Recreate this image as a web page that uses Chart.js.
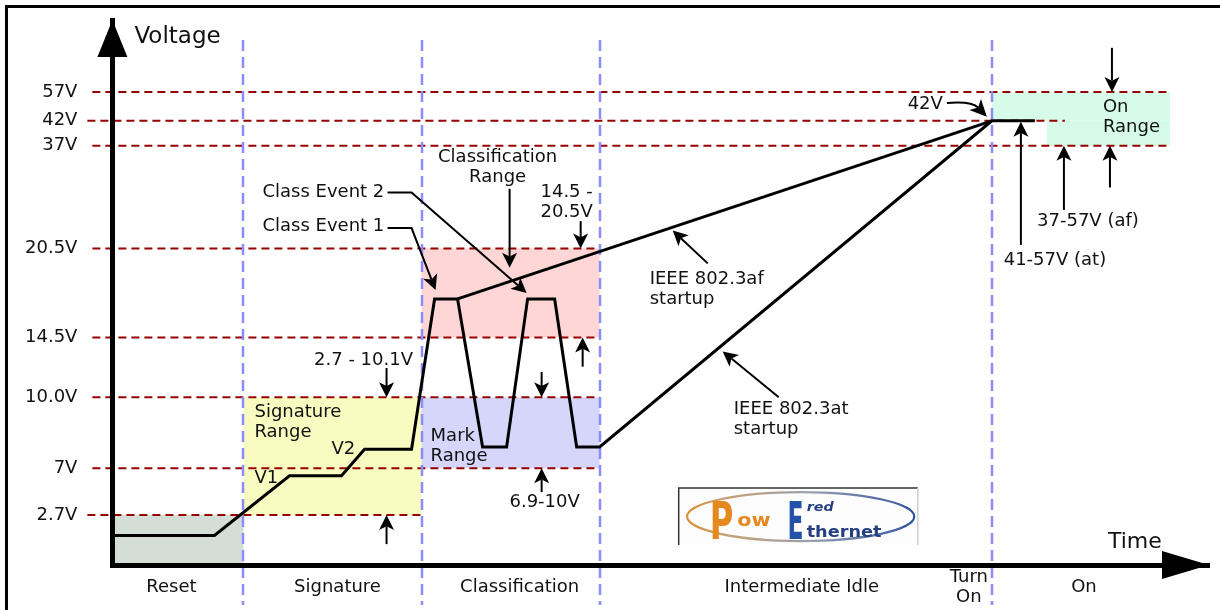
<!DOCTYPE html>
<html>
<head>
<meta charset="utf-8">
<script src="https://cdn.jsdelivr.net/npm/chart.js@4.4.1/dist/chart.umd.min.js"></script>
<style>
html,body{margin:0;padding:0;background:#fff;}
#wrap{width:1220px;height:610px;position:relative;}
</style>
</head>
<body>
<div id="wrap"><canvas id="c"></canvas></div>
<script>
// ---------------- DATA ----------------
// Voltage levels marked on the axis
const Y_TICK_V      = [2.7, 7, 10, 14.5, 20.5, 37, 42, 57];
const Y_TICK_LABELS = ['2.7V', '7V', '10.0V', '14.5V', '20.5V', '37V', '42V', '57V'];

// Phases along the (schematic) time axis
const PHASE_BOUNDS  = [0, 131, 309, 487, 879, 1057];
const PHASE_LABEL_T = [59, 225, 407, 689, 856, 971];
const PHASE_LABELS  = ['Reset', 'Signature', 'Classification', 'Intermediate Idle', ['Turn', 'On'], 'On'];

// PD voltage trace (reset, signature V1/V2, two class events, 802.3at startup, on)
const TRACE_T = [0, 102, 177, 229, 252, 299, 322, 345, 370, 394, 415, 442, 464, 487, 879, 922];
const TRACE_V = [1.6, 1.6, 6.3, 6.3, 7.8, 7.8, 17.1, 17.1, 7.9, 7.9, 17.1, 17.1, 7.9, 7.9, 42, 42];

// IEEE 802.3af startup ramp
const AF_T = [345, 879];
const AF_V = [17.1, 42];

// Shaded voltage ranges
const RANGE_NAMES = ['Reset', 'Signature Range', 'Classification Range', 'Mark Range', 'On Range', 'On Range'];
const RANGE_T0 = [0, 131, 309, 309, 879, 934];
const RANGE_T1 = [131, 309, 487, 487, 1057, 1057];
const RANGE_V0 = [0, 2.7, 14.5, 7, 42, 37];
const RANGE_V1 = [2.7, 10, 20.5, 10, 57, 42];

// Dashed reference levels (same order as Y_TICK_V) and where they end in time
const LEVEL_T_END = [309, 487, 487, 487, 487, 1057, 952, 1057];

// ---------------- STYLE / LAYOUT ----------------
const FONT = '"DejaVu Sans", "Liberation Sans", Arial, sans-serif';
const RANGE_COLORS = ['#d4ddd6', '#f9fcc1', '#ffd6d6', '#d6d6fb', '#d6fbe9', '#d6fbe9'];
const LEVEL_EXT_PX = [25, 20, 20, 20, 20, 20, 25, 20];
// non-linear spacing of the schematic voltage axis (value -> fraction of axis height)
const Y_SPACING_V    = [0, 2.7, 7, 10, 14.5, 20.5, 37, 42, 57, 80];
const Y_SPACING_FRAC = [0, 0.0916, 0.1777, 0.3077, 0.4176, 0.5806, 0.7692, 0.8150, 0.8681, 1];

// annotations anchored in data coordinates [t, V]
const ARROWS = [
  {pts: [[275, 29.5], [299, 29.5], [414, 17.5]]},   // Class Event 2
  {pts: [[275, 23.8], [299, 23.8], [323, 17.7]]},   // Class Event 1
  {pts: [[397, 30.1], [397, 19.2]]},                // Classification Range
  {pts: [[468, 24.9], [468, 20.5]]},                // 20.5V
  {pts: [[470, 12.3], [470, 14.5]]},                // 14.5V
  {pts: [[274, 12.2], [274, 10]]},                  // 10.1V
  {pts: [[274, 1.13], [274, 2.7]]},                 // 2.7V
  {pts: [[429, 11.9], [429, 10]]},                  // mark top
  {pts: [[429, 4.8], [429, 7]]},                    // mark bottom
  {pts: [[595, 19.5], [560, 23.4]]},                // IEEE af
  {pts: [[666, 10.0], [610, 13.45]]},               // IEEE at
  {pts: [[999, 71.1], [999, 57]]},                  // on top
  {pts: [[997, 30.3], [997, 37]]},                  // on bottom
  {pts: [[951, 26.7], [951, 37]]},                  // 37-57 af
  {pts: [[908, 21.1], [908, 41.8]]}                 // 41-57 at
];
const CURVED_ARROW = {from: [834, 51.3], ctrl: [859, 52.3], to: [874, 44.1]};
const TEXTS = [
  {lines: ['Classification', 'Range'], t: 385, v: 35.2, align: 'center'},
  {lines: ['Class Event 2'], t: 150, v: 29.6, align: 'left'},
  {lines: ['Class Event 1'], t: 150, v: 24.0, align: 'left'},
  {lines: ['14.5 -', '20.5V'], t: 454, v: 29.5, align: 'center'},
  {lines: ['2.7 - 10.1V'], t: 251, v: 12.8, align: 'center'},
  {lines: ['Signature', 'Range'], t: 142, v: 9.37, align: 'left'},
  {lines: ['V1'], t: 142, v: 6.08, align: 'left'},
  {lines: ['V2'], t: 219, v: 7.8, align: 'left'},
  {lines: ['Mark', 'Range'], t: 318, v: 8.35, align: 'left'},
  {lines: ['6.9-10V'], t: 432, v: 3.9, align: 'center'},
  {lines: ['IEEE 802.3af', 'startup'], t: 537, v: 18.4, align: 'left'},
  {lines: ['IEEE 802.3at', 'startup'], t: 621, v: 9.5, align: 'left'},
  {lines: ['42V'], t: 830, v: 50.8, align: 'right'},
  {lines: ['On', 'Range'], t: 990, v: 49.2, align: 'left'},
  {lines: ['37-57V (af)'], t: 975, v: 24.8, align: 'center'},
  {lines: ['41-57V (at)'], t: 942, v: 19.7, align: 'center'},
  {lines: ['Voltage'], t: 22, v: 74.6, align: 'left', size: 23},
  {lines: ['Time'], t: 995, v: 1.24, align: 'left', size: 22}
];
const LOGO = {t0: 566, t1: 805, v0: 5.17, v1: 1.08};

// ---------------- custom non-linear scale ----------------
class PiecewiseScale extends Chart.LinearScale {
  _vToDec(v) {
    const V = Y_SPACING_V, F = Y_SPACING_FRAC;
    if (v <= V[0]) return F[0];
    for (let i = 1; i < V.length; i++) {
      if (v <= V[i]) return F[i - 1] + (v - V[i - 1]) / (V[i] - V[i - 1]) * (F[i] - F[i - 1]);
    }
    return F[F.length - 1];
  }
  getPixelForValue(v) { return this.getPixelForDecimal(this._vToDec(v)); }
  getValueForPixel(p) {
    const d = this.getDecimalForPixel(p), V = Y_SPACING_V, F = Y_SPACING_FRAC;
    for (let i = 1; i < F.length; i++) {
      if (d <= F[i]) return V[i - 1] + (d - F[i - 1]) / (F[i] - F[i - 1]) * (V[i] - V[i - 1]);
    }
    return V[V.length - 1];
  }
}
PiecewiseScale.id = 'piecewise';
PiecewiseScale.defaults = Chart.LinearScale.defaults;
Chart.register(PiecewiseScale);

// ---------------- drawing helpers ----------------
function arrowHead(ctx, tx, ty, fx, fy, L, W) {
  const dx = tx - fx, dy = ty - fy, len = Math.hypot(dx, dy) || 1;
  const ux = dx / len, uy = dy / len, nx = -uy, ny = ux;
  const bx = tx - ux * L, by = ty - uy * L;
  const mx = tx - ux * L * 0.75, my = ty - uy * L * 0.75;
  ctx.beginPath();
  ctx.moveTo(tx, ty);
  ctx.lineTo(bx + nx * W, by + ny * W);
  ctx.lineTo(mx, my);
  ctx.lineTo(bx - nx * W, by - ny * W);
  ctx.closePath();
  ctx.fill();
  return [mx, my];
}

function drawLogo(ctx, X0, Y0, X1, Y1) {
  const w = X1 - X0, h = Y1 - Y0;
  ctx.save();
  ctx.fillStyle = '#fdfdfd';
  ctx.fillRect(X0, Y0, w, h);
  ctx.lineWidth = 1.5;
  ctx.strokeStyle = '#333';
  ctx.beginPath(); ctx.moveTo(X0, Y1); ctx.lineTo(X0, Y0); ctx.lineTo(X1, Y0); ctx.stroke();
  ctx.strokeStyle = '#cfcfcf';
  ctx.beginPath(); ctx.moveTo(X1, Y0); ctx.lineTo(X1, Y1); ctx.stroke();
  const g = ctx.createLinearGradient(X0, 0, X1, 0);
  g.addColorStop(0, '#e08a2c'); g.addColorStop(0.2, '#c8a070'); g.addColorStop(0.55, '#9aa0b0'); g.addColorStop(1, '#2b4f9e');
  ctx.strokeStyle = g; ctx.lineWidth = 2.2;
  ctx.beginPath(); ctx.ellipse(X0 + w * 0.51, Y0 + h * 0.5, w * 0.475, h * 0.43, 0, 0, Math.PI * 2); ctx.stroke();
  function stretched(txt, x, y, font, sx, color) {
    ctx.save(); ctx.translate(x, y); ctx.scale(sx, 1);
    ctx.font = font; ctx.fillStyle = color; ctx.textAlign = 'left'; ctx.textBaseline = 'alphabetic';
    ctx.fillText(txt, 0, 0); ctx.restore();
  }
  stretched('P', X0 + w * 0.13, Y0 + h * 0.9, 'bold 52px ' + FONT, 0.62, '#e5891f');
  stretched('ow', X0 + w * 0.245, Y0 + h * 0.66, 'bold 18px ' + FONT, 1.15, '#e5891f');
  stretched('E', X0 + w * 0.455, Y0 + h * 0.9, 'bold 52px ' + FONT, 0.45, '#2452a8');
  stretched('red', X0 + w * 0.535, Y0 + h * 0.4, 'italic bold 13px ' + FONT, 1.1, '#233f82');
  stretched('thernet', X0 + w * 0.535, Y0 + h * 0.86, 'bold 15px ' + FONT, 1.18, '#233f82');
  ctx.restore();
}

const overlay = {
  id: 'overlay',
  beforeDatasetsDraw(chart) {
    const {ctx, chartArea: ca} = chart;
    const x = chart.scales.x, y = chart.scales.y;
    ctx.save();
    // shaded ranges
    for (let i = 0; i < RANGE_T0.length; i++) {
      const X0 = x.getPixelForValue(RANGE_T0[i]), X1 = x.getPixelForValue(RANGE_T1[i]);
      const Y0 = y.getPixelForValue(RANGE_V1[i]), Y1 = y.getPixelForValue(RANGE_V0[i]);
      ctx.fillStyle = RANGE_COLORS[i];
      ctx.fillRect(X0, Y0, X1 - X0, Y1 - Y0);
    }
    // dashed voltage levels
    ctx.strokeStyle = '#960000';
    ctx.lineWidth = 2;
    ctx.setLineDash([8, 5]);
    for (let i = 0; i < Y_TICK_V.length; i++) {
      const Y = y.getPixelForValue(Y_TICK_V[i]);
      ctx.beginPath();
      ctx.moveTo(ca.left - LEVEL_EXT_PX[i], Y);
      ctx.lineTo(x.getPixelForValue(LEVEL_T_END[i]), Y);
      ctx.stroke();
    }
    // phase boundaries
    ctx.strokeStyle = '#8a8cff';
    ctx.lineWidth = 2.5;
    ctx.setLineDash([11, 6]);
    const yTop = y.getPixelForValue(73.6);
    for (let i = 1; i < PHASE_BOUNDS.length - 1; i++) {
      const X = Math.round(x.getPixelForValue(PHASE_BOUNDS[i]));
      ctx.beginPath();
      ctx.moveTo(X, yTop);
      ctx.lineTo(X, ca.bottom + 40);
      ctx.stroke();
    }
    ctx.restore();
  },
  afterDatasetsDraw(chart) {
    const {ctx} = chart;
    const x = chart.scales.x, y = chart.scales.y;
    const P = (p) => [x.getPixelForValue(p[0]), y.getPixelForValue(p[1])];
    ctx.save();
    ctx.strokeStyle = '#000';
    ctx.fillStyle = '#000';
    ctx.lineWidth = 2;
    ctx.setLineDash([]);
    for (const a of ARROWS) {
      const pts = a.pts.map(P);
      const n = pts.length;
      const tip = pts[n - 1], prev = pts[n - 2];
      const notch = arrowHead(ctx, tip[0], tip[1], prev[0], prev[1], 15, 7.5);
      ctx.beginPath();
      ctx.moveTo(pts[0][0], pts[0][1]);
      for (let i = 1; i < n - 1; i++) ctx.lineTo(pts[i][0], pts[i][1]);
      ctx.lineTo(notch[0], notch[1]);
      ctx.stroke();
    }
    // curved arrow to 42V
    {
      const f = P(CURVED_ARROW.from), c = P(CURVED_ARROW.ctrl), t = P(CURVED_ARROW.to);
      const notch = arrowHead(ctx, t[0], t[1], c[0], c[1], 17, 8);
      ctx.beginPath();
      ctx.moveTo(f[0], f[1]);
      ctx.quadraticCurveTo(c[0], c[1], notch[0], notch[1]);
      ctx.stroke();
    }
    // texts
    ctx.textBaseline = 'middle';
    for (const tx of TEXTS) {
      const size = tx.size || 18;
      ctx.font = size + 'px ' + FONT;
      ctx.fillStyle = '#111';
      ctx.textAlign = tx.align;
      const [X, Y] = P([tx.t, tx.v]);
      tx.lines.forEach((ln, i) => ctx.fillText(ln, X, Y + i * 20));
    }
    // logo
    const [LX0, LY0] = P([LOGO.t0, LOGO.v0]);
    const [LX1, LY1] = P([LOGO.t1, LOGO.v1]);
    drawLogo(ctx, LX0, LY0, LX1, LY1);
    ctx.restore();
  },
  afterDraw(chart) {
    const {ctx, chartArea: ca} = chart;
    ctx.save();
    ctx.fillStyle = '#000';
    // y axis arrow head
    ctx.beginPath();
    ctx.moveTo(ca.left, ca.top);
    ctx.lineTo(ca.left + 15, ca.top + 37);
    ctx.lineTo(ca.left - 15, ca.top + 37);
    ctx.closePath();
    ctx.fill();
    // x axis arrow head
    ctx.beginPath();
    ctx.moveTo(ca.right, ca.bottom);
    ctx.lineTo(ca.right - 47, ca.bottom - 14);
    ctx.lineTo(ca.right - 47, ca.bottom + 14);
    ctx.closePath();
    ctx.fill();
    // picture frame
    ctx.strokeStyle = '#000';
    ctx.lineWidth = 3;
    ctx.beginPath();
    ctx.moveTo(6.5, 610);
    ctx.lineTo(6.5, 6.5);
    ctx.lineTo(1220, 6.5);
    ctx.stroke();
    ctx.restore();
  }
};

const tickFont = {family: FONT, size: 18, lineHeight: '20px'};

new Chart(document.getElementById('c'), {
  type: 'line',
  data: {
    datasets: [
      {
        label: 'PD voltage (IEEE 802.3at startup)',
        data: TRACE_T.map((t, i) => ({x: t, y: TRACE_V[i]})),
        borderColor: '#000', borderWidth: 3, pointRadius: 0, tension: 0, fill: false,
        borderJoinStyle: 'miter', borderCapStyle: 'butt'
      },
      {
        label: 'IEEE 802.3af startup',
        data: AF_T.map((t, i) => ({x: t, y: AF_V[i]})),
        borderColor: '#000', borderWidth: 3, pointRadius: 0, tension: 0, fill: false,
        borderCapStyle: 'butt'
      }
    ]
  },
  options: {
    responsive: true,
    maintainAspectRatio: false,
    animation: false,
    events: [],
    layout: {padding: {left: 23, right: 11, top: 20, bottom: -8}},
    plugins: {legend: {display: false}, tooltip: {enabled: false}, title: {display: false}},
    scales: {
      x: {
        type: 'linear', min: 0, max: 1096,
        grid: {display: true, drawOnChartArea: false, drawTicks: true, tickLength: 11, tickColor: 'rgba(0,0,0,0)'},
        border: {display: true, color: '#000', width: 5, z: 1},
        afterBuildTicks: (s) => { s.ticks = PHASE_LABEL_T.map(v => ({value: v})); },
        ticks: {
          autoSkip: false, maxRotation: 0, minRotation: 0, padding: 1, color: '#111',
          font: tickFont, crossAlign: 'center',
          callback: (v, i) => PHASE_LABELS[i]
        }
      },
      y: {
        type: 'piecewise', min: 0, max: 80,
        grid: {display: true, drawOnChartArea: false, drawTicks: true, tickLength: 33, tickColor: 'rgba(0,0,0,0)'},
        border: {display: true, color: '#000', width: 5, z: 1},
        afterBuildTicks: (s) => { s.ticks = Y_TICK_V.map(v => ({value: v})); },
        ticks: {
          autoSkip: false, padding: 2, color: '#111', font: tickFont,
          callback: (v) => Y_TICK_LABELS[Y_TICK_V.indexOf(v)]
        }
      }
    }
  },
  plugins: [overlay]
});
</script>
</body>
</html>
